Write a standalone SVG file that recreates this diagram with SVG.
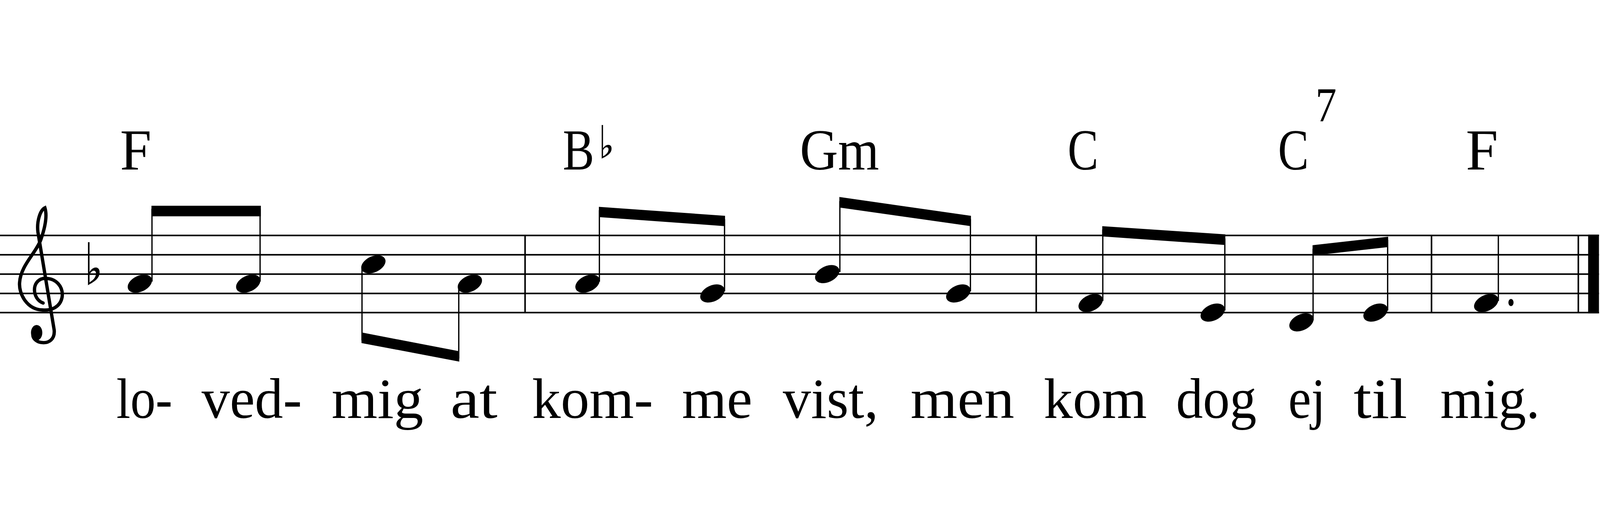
<svg xmlns="http://www.w3.org/2000/svg" xmlns:xlink="http://www.w3.org/1999/xlink" width="6201" height="1321" viewBox="0 0 6201 1321" style="max-width:100vw;max-height:100vh">
<style>
.t{font-family:"Liberation Serif","Times New Roman",serif;fill:#000}
.ch{font-size:225px}
.ly{font-size:220px}
.st{stroke:#000;stroke-width:6}
.stem{stroke:#000;stroke-width:5}
.bar{stroke:#000;stroke-width:6}
</style>
<defs>
<ellipse id="nh" cx="0" cy="0" rx="50" ry="31" transform="rotate(-25)" fill="#000"/>
<path id="flat" fill="#000" fill-rule="evenodd" d="M0,0 L6,0 L6,116 C19,91 51,91 44,126 C39,146 19,156 0,167 Z M6,126 C14,106 32,106 31,123 C30,138 19,148 6,156 Z"/>
</defs>
<rect width="6201" height="1321" fill="#fff"/>
<g id="staff">
<line class="st" x1="0" y1="573" x2="6197" y2="573"/>
<line class="st" x1="0" y1="648" x2="6197" y2="648"/>
<line class="st" x1="0" y1="723" x2="6197" y2="723"/>
<line class="st" x1="0" y1="798" x2="6197" y2="798"/>
<line class="st" x1="0" y1="872" x2="6197" y2="872"/>
<line class="bar" x1="2035" y1="573" x2="2035" y2="872"/>
<line class="bar" x1="4016" y1="573" x2="4016" y2="872"/>
<line class="bar" x1="5548" y1="573" x2="5548" y2="872"/>
<line class="bar" x1="6117" y1="573" x2="6117" y2="872"/>
<rect x="6155" y="570" width="42" height="305" fill="#000"/>
</g>
<g id="clef">
<path d="M167,835 C125,820 120,750 167,740 C220,735 245,775 241,810 C235,850 200,865 165,862 C105,860 72,800 76,755 C80,690 140,640 158,590 C172,550 185,500 174,466 C155,475 142,520 147,560 L210,940 C213,975 190,992 160,988 C140,985 125,970 128,955" fill="none" stroke="#000" stroke-width="13" stroke-linecap="round"/>
<ellipse cx="142" cy="950" rx="22" ry="30" fill="#000"/>
<use xlink:href="#flat" x="341" y="599"/>
</g>
<g id="notes">
<use xlink:href="#nh" x="542" y="760"/><line class="stem" x1="589" y1="752" x2="589" y2="470"/>
<use xlink:href="#nh" x="962" y="760"/><line class="stem" x1="1008" y1="752" x2="1008" y2="470"/>
<use xlink:href="#nh" x="1447" y="685"/><line class="stem" x1="1403" y1="693" x2="1403" y2="980"/>
<use xlink:href="#nh" x="1821" y="760"/><line class="stem" x1="1778" y1="768" x2="1778" y2="1050"/>
<use xlink:href="#nh" x="2277" y="760"/><line class="stem" x1="2323" y1="752" x2="2323" y2="475"/>
<use xlink:href="#nh" x="2761" y="798"/><line class="stem" x1="2808" y1="790" x2="2808" y2="510"/>
<use xlink:href="#nh" x="3206" y="723"/><line class="stem" x1="3255" y1="715" x2="3255" y2="440"/>
<use xlink:href="#nh" x="3714" y="798"/><line class="stem" x1="3761" y1="790" x2="3761" y2="510"/>
<use xlink:href="#nh" x="4227" y="835"/><line class="stem" x1="4274" y1="827" x2="4274" y2="550"/>
<use xlink:href="#nh" x="4700" y="872"/><line class="stem" x1="4747" y1="864" x2="4747" y2="585"/>
<use xlink:href="#nh" x="5044" y="910"/><line class="stem" x1="5089" y1="902" x2="5089" y2="625"/>
<use xlink:href="#nh" x="5331" y="872"/><line class="stem" x1="5378" y1="864" x2="5378" y2="590"/>
<use xlink:href="#nh" x="5760" y="835"/><line class="stem" x1="5807" y1="827" x2="5807" y2="573"/>
<ellipse cx="5856" cy="833" rx="10" ry="14" fill="#000"/>
</g>
<g id="beams" fill="#000">
<polygon points="587,458 1011,458 1011,499 587,499"/>
<polygon points="1401,949 1780,1022 1780,1062 1401,990"/>
<polygon points="2321,462 2810,497 2810,537 2321,502"/>
<polygon points="3253,424 3763,497 3763,537 3253,465"/>
<polygon points="4272,537 4749,569 4749,610 4272,577"/>
<polygon points="5087,611 5380,578 5380,618 5087,651"/>
</g>
<g id="chords" class="t ch">
<text x="465" y="317" textLength="122" lengthAdjust="spacingAndGlyphs">F</text>
<text x="2181" y="317" textLength="122" lengthAdjust="spacingAndGlyphs">B</text>
<use xlink:href="#flat" transform="translate(2332,145) scale(0.85,0.78)"/>
<text x="3100" y="317" textLength="307" lengthAdjust="spacingAndGlyphs">Gm</text>
<text x="4138" y="317" textLength="119" lengthAdjust="spacingAndGlyphs">C</text>
<text x="4953" y="317" textLength="119" lengthAdjust="spacingAndGlyphs">C</text>
<text x="5098" y="132" style="font-size:190px" textLength="82" lengthAdjust="spacingAndGlyphs">7</text>
<text x="5681" y="317" textLength="125" lengthAdjust="spacingAndGlyphs">F</text>
</g>
<g id="lyrics" class="t ly">
<text x="451" y="1280" textLength="217" lengthAdjust="spacingAndGlyphs">lo-</text>
<text x="781" y="1280" textLength="389" lengthAdjust="spacingAndGlyphs">ved-</text>
<text x="1285" y="1280" textLength="356" lengthAdjust="spacingAndGlyphs">mig</text>
<text x="1746" y="1280" textLength="182" lengthAdjust="spacingAndGlyphs">at</text>
<text x="2062" y="1280" textLength="469" lengthAdjust="spacingAndGlyphs">kom-</text>
<text x="2643" y="1280" textLength="273" lengthAdjust="spacingAndGlyphs">me</text>
<text x="3034" y="1280" textLength="370" lengthAdjust="spacingAndGlyphs">vist,</text>
<text x="3529" y="1280" textLength="402" lengthAdjust="spacingAndGlyphs">men</text>
<text x="4045" y="1280" textLength="400" lengthAdjust="spacingAndGlyphs">kom</text>
<text x="4558" y="1280" textLength="312" lengthAdjust="spacingAndGlyphs">dog</text>
<text x="4993" y="1280" textLength="144" lengthAdjust="spacingAndGlyphs">ej</text>
<text x="5246" y="1280" textLength="208" lengthAdjust="spacingAndGlyphs">til</text>
<text x="5582" y="1280" textLength="386" lengthAdjust="spacingAndGlyphs">mig.</text>
</g>
</svg>
